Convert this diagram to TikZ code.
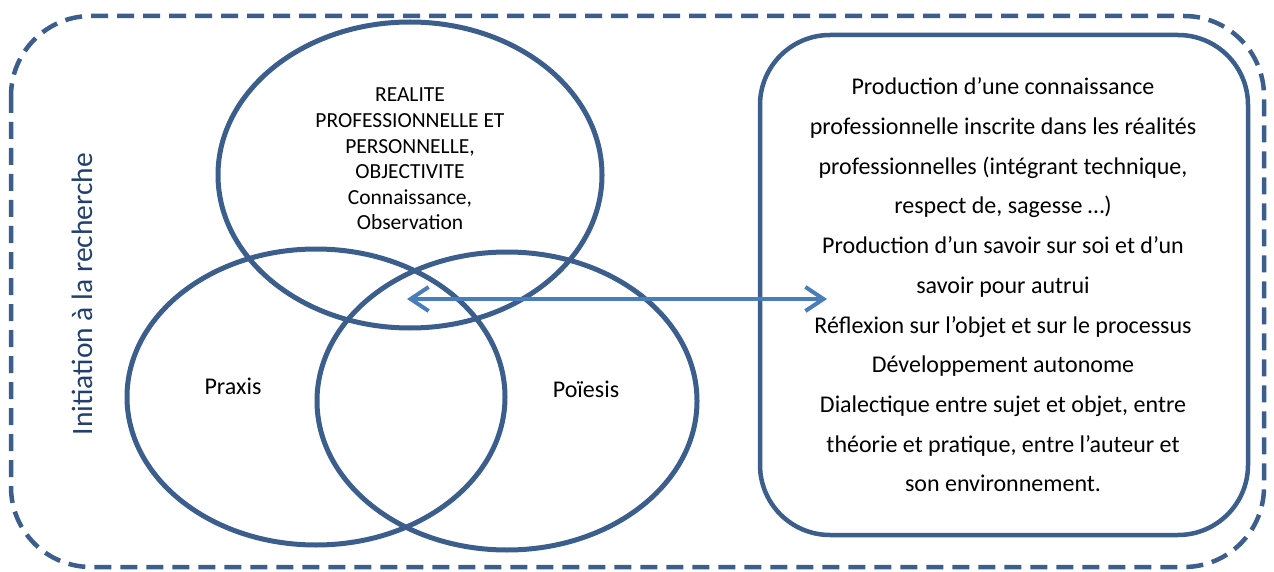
\documentclass[tikz,border=0pt]{standalone}
\usepackage{fontspec}
\setmainfont{Carlito}
\usetikzlibrary{shapes.geometric,arrows.meta}
\definecolor{ellblue}{HTML}{3B5E8D}
\definecolor{arrblue}{HTML}{4A7EBB}
\definecolor{txtblue}{HTML}{22406F}
\tikzset{
  ell/.style={ellipse, draw=ellblue, line width=5pt, inner sep=0pt},
  rbox/.style={rectangle, draw=ellblue, line width=4.5pt, rounded corners=70pt, inner sep=0pt},
  outerdash/.style={draw=ellblue, line width=4.5pt, dash pattern=on 17pt off 9pt, rounded corners=80pt},
  lbl/.style={font=\fontsize{21.5}{25.6}\selectfont, align=center, text=black, inner sep=0pt},
  slbl/.style={font=\fontsize{24}{28}\selectfont, text=black, inner sep=0pt},
  rlbl/.style={font=\fontsize{24}{39.7}\selectfont, align=center, text=black, inner sep=0pt},
  biarrow/.style={draw=arrblue, line width=4pt, {Straight Barb[length=18pt,width=24pt,line width=4pt]}-{Straight Barb[length=18pt,width=24pt,line width=4pt]}}
}
\begin{document}
\begin{tikzpicture}[x=1pt,y=-1pt]
\useasboundingbox (0,0) rectangle (1274,572);
\draw[outerdash] (11,16) rectangle (1264,567);
\node[ell, minimum width=384pt, minimum height=306pt] (top) at (410,175) {};
\node[ell, minimum width=378pt, minimum height=296pt] (praxis) at (316,397) {};
\node[ell, minimum width=380pt, minimum height=298pt] (poiesis) at (507,401) {};
\node[rbox, minimum width=488pt, minimum height=500pt] (box) at (1004,285) {};
\node[lbl] (toptxt) at (410,159) {REALITE\\PROFESSIONNELLE ET\\PERSONNELLE,\\OBJECTIVITE\\Connaissance,\\Observation};
\node[slbl] (praxtxt) at (233,386) {Praxis};
\node[slbl] (poitxt) at (586,389) {Poïesis};
\node[rlbl] (boxtxt) at (1003,285) {Production d’une connaissance\\professionnelle inscrite dans les réalités\\professionnelles (intégrant technique,\\respect de, sagesse …)\\Production d’un savoir sur soi et d’un\\savoir pour autrui\\Réflexion sur l’objet et sur le processus\\Développement autonome\\Dialectique entre sujet et objet, entre\\théorie et pratique, entre l’auteur et\\son environnement.};
\node[rotate=90, font=\fontsize{29.5}{32}\selectfont, text=txtblue, inner sep=0pt] (vert) at (82,294) {Initiation à la recherche};
\coordinate (aL) at (407,299);
\coordinate (aR) at (827,299);
\draw[biarrow] (aL) -- (aR);
\end{tikzpicture}
\end{document}
